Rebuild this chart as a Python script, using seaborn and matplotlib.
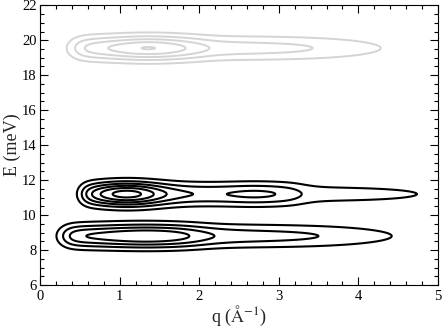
import numpy as np
import seaborn as sns
import matplotlib
matplotlib.use("Agg")
import matplotlib.pyplot as plt
from matplotlib.ticker import MultipleLocator

# contour levels (intensity units)
levels = [1, 2, 3, 4, 5, 6]

# three excitation bands: 0 = grey band at ~19.6 meV, 1 and 2 = black bands
band_E = [19.55, 11.2, 8.8]
band_sE = [0.50, 0.48, 0.485]
cut_q = [0.413, 0.515, 0.285]      # low-q edge of the measured intensity
cut_w = [0.088, 0.058, 0.075]

# peaked parts of each band along q
peak_band = [0, 1, 1, 2]
peak_q = [1.365, 1.09, 2.70, 1.35]
peak_w = [0.366, 0.33, 0.254, 0.45]
peak_amp = [1.66, 3.65, 0.41, 1.20]

# plateau / tail parts of each band along q
step_band = [0, 0, 1, 1, 2, 2]
step_q = [2.05, 4.04, 3.25, 5.18, 2.00, 4.16]
step_w = [0.12, 0.51, 0.10, 0.557, 0.15, 0.55]
step_amp = [0.80, 2.60, 1.40, 1.45, 1.20, 2.60]


def band_field(b, q, E):
    prof = np.zeros_like(q)
    for i in range(len(peak_band)):
        if peak_band[i] == b:
            prof += peak_amp[i] * np.exp(-(q - peak_q[i]) ** 2 / (2 * peak_w[i] ** 2))
    for i in range(len(step_band)):
        if step_band[i] == b:
            prof += step_amp[i] / (1 + np.exp((q - step_q[i]) / step_w[i]))
    prof = prof / (1 + np.exp(-(q - cut_q[b]) / cut_w[b]))
    return prof * np.exp(-(E - band_E[b]) ** 2 / (2 * band_sE[b] ** 2))


q = np.linspace(0, 5, 1001)
E = np.linspace(6, 22, 1601)
Q, EE = np.meshgrid(q, E)
grey = band_field(0, Q, EE)
black = band_field(1, Q, EE) + band_field(2, Q, EE)

sns.set_style("ticks")
plt.rcParams['font.family'] = ['Liberation Serif', 'DejaVu Serif']
plt.rcParams['mathtext.fontset'] = 'stix'

fig = plt.figure(figsize=(4.43, 3.30), dpi=100)
ax = fig.add_axes([40 / 443, 45 / 330, 398 / 443, 279.7 / 330])

ax.contour(Q, EE, grey, levels=levels, colors='#d4d4d4', linewidths=1.4)
ax.contour(Q, EE, black, levels=levels, colors='black', linewidths=1.5)

ax.set_xlim(0, 5)
ax.set_ylim(6, 22)
ax.set_xticks(range(0, 6))
ax.set_yticks(range(6, 23, 2))
ax.xaxis.set_minor_locator(MultipleLocator(0.2))
ax.yaxis.set_minor_locator(MultipleLocator(0.5))
ax.tick_params(which='both', direction='in', top=True, right=True,
               width=0.8, colors='black', labelsize=10.5)
ax.tick_params(which='major', length=6)
ax.tick_params(which='minor', length=3)
ax.tick_params(axis='x', pad=3.5)
ax.tick_params(axis='y', pad=2.5)
for s in ax.spines.values():
    s.set_linewidth(0.8)
    s.set_color('black')

ax.set_xlabel(r"q ($\mathrm{\AA}^{-1}$)", fontsize=13, labelpad=1)
ax.set_ylabel("E (meV)", fontsize=13, labelpad=1)

fig.savefig("out.png", dpi=100)
